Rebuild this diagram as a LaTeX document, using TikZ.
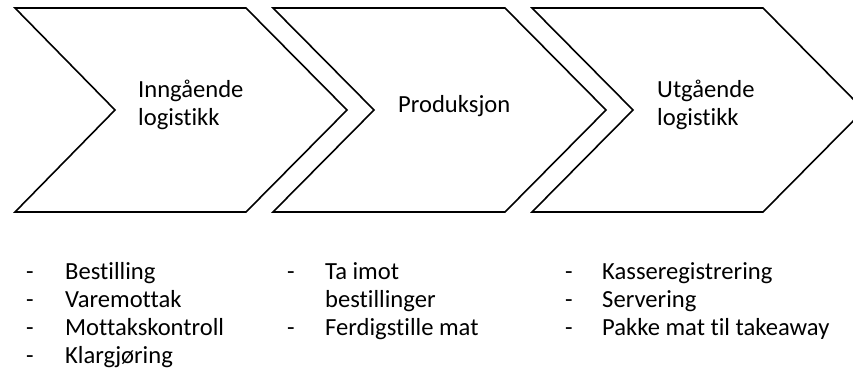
\documentclass[tikz,border=0pt]{standalone}
\usepackage{fontspec}
\setmainfont[Ligatures=NoCommon]{Carlito}
\begin{document}
\begin{tikzpicture}[x=1pt,y=-1pt,
  chevron/.style={draw=black,line width=1.6pt,line join=miter,fill=white},
  txt/.style={anchor=base west,inner sep=0pt,font=\fontsize{24.6}{28.5}\selectfont},
  dashmark/.style={txt}]
\useasboundingbox[fill=white] (0,0) rectangle (853,376);
\begin{scope}
\clip (0,0) rectangle (853,376);
% three process chevrons
\draw[chevron] (15,8) -- (246,8) -- (347,110) -- (246,212) -- (15,212) -- (115,110) -- cycle;
\draw[chevron] (273,8) -- (505,8) -- (606,110) -- (505,212) -- (273,212) -- (374,110) -- cycle;
\draw[chevron] (532,8) -- (763,8) -- (864,110) -- (763,212) -- (532,212) -- (633,110) -- cycle;
\end{scope}
% chevron titles
\node[txt] (t1a) at (138,97) {Inngående};
\node[txt] (t1b) at (138,125) {logistikk};
\node[txt] (t2) at (398,112) {Produksjon};
\node[txt] (t3a) at (657,97) {Utgående};
\node[txt] (t3b) at (657,125) {logistikk};
% activity lists
\node[dashmark] (d11) at (26,279) {-};
\node[txt] (l11) at (65,279) {Bestilling};
\node[dashmark] (d12) at (26,307) {-};
\node[txt] (l12) at (65,307) {Varemottak};
\node[dashmark] (d13) at (26,335) {-};
\node[txt] (l13) at (65,335) {Mottakskontroll};
\node[dashmark] (d14) at (26,363) {-};
\node[txt] (l14) at (65,363) {Klargjøring};

\node[dashmark] (d21) at (287,279) {-};
\node[txt] (l21) at (325,279) {Ta imot};
\node[txt] (l21b) at (325,307) {bestillinger};
\node[dashmark] (d22) at (287,335) {-};
\node[txt] (l22) at (325,335) {Ferdigstille mat};

\node[dashmark] (d31) at (565,279) {-};
\node[txt] (l31) at (602,279) {Kasseregistrering};
\node[dashmark] (d32) at (565,307) {-};
\node[txt] (l32) at (602,307) {Servering};
\node[dashmark] (d33) at (565,335) {-};
\node[txt] (l33) at (602,335) {Pakke mat til takeaway};
\end{tikzpicture}
\end{document}
